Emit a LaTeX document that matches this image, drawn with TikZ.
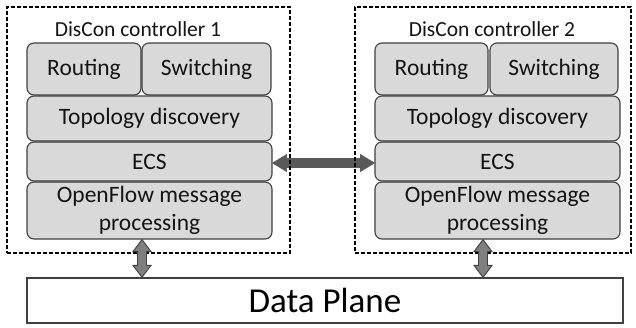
\documentclass[tikz,border=0pt]{standalone}
\usepackage{fontspec}
\setmainfont{Carlito}
\usetikzlibrary{calc}
\definecolor{boxfill}{HTML}{D9D9D9}
\definecolor{boxline}{HTML}{404040}
\definecolor{arrowfill}{HTML}{7F7F7F}
\definecolor{harrowfill}{HTML}{595959}
\definecolor{txt}{HTML}{141414}
\begin{document}
\begin{tikzpicture}[x=1pt,y=-1pt,
  layer/.style={draw=boxline, fill=boxfill, line width=1.1pt, rounded corners=7pt,
    inner sep=0pt, align=center, text=txt, font=\fontsize{23.5}{28}\selectfont},
  ctrl/.style={draw=black, line width=1.3pt, dash pattern=on 4pt off 2pt, inner sep=0pt},
  title/.style={text=txt, inner sep=0pt, font=\fontsize{21.5}{26}\selectfont},
  plane/.style={draw=boxline, line width=1.2pt, fill=white, inner sep=0pt, text=black,
    font=\fontsize{35}{40}\selectfont},
  vfat/.style={fill=arrowfill, draw=boxline, line width=0.9pt, line join=miter},
  hfat/.style={fill=harrowfill, draw=harrowfill, line width=0.6pt, line join=miter}]
\useasboundingbox (0,0) rectangle (636,327);
% controller 1 layers
\node[layer, minimum width=114pt, minimum height=52pt] (R1) at (84,69) {Routing};
\node[layer, minimum width=129pt, minimum height=52pt] (S1) at (206.5,69) {Switching};
\node[layer, minimum width=245pt, minimum height=45pt] (T1) at (149.5,118.5) {Topology discovery};
\node[layer, minimum width=245pt, minimum height=39pt] (E1) at (149.5,161.5) {ECS};
\node[layer, minimum width=245pt, minimum height=57pt] (O1) at (149.5,210.5) {OpenFlow message\\processing};
% controller 2 layers
\node[layer, minimum width=113pt, minimum height=52pt] (R2) at (431.5,69) {Routing};
\node[layer, minimum width=128pt, minimum height=52pt] (S2) at (554,69) {Switching};
\node[layer, minimum width=245pt, minimum height=45pt] (T2) at (497.5,118.5) {Topology discovery};
\node[layer, minimum width=245pt, minimum height=39pt] (E2) at (497.5,161.5) {ECS};
\node[layer, minimum width=245pt, minimum height=57pt] (O2) at (497.5,210.5) {OpenFlow message\\processing};
% data plane
\node[plane, minimum width=596pt, minimum height=45pt] (dp) at (325,300.5) {Data Plane};
% horizontal ECS arrow
\path[hfat] let \p1=($(E1.east)+(0,1.5)$), \p2=($(E2.west)+(0,1.5)$) in
  (\x1,\y1) -- (\x1+14pt,\y1+8.5pt) -- (\x1+14pt,\y1+4.5pt) -- (\x2-14pt,\y1+4.5pt)
  -- (\x2-14pt,\y1+8.5pt) -- (\x2,\y1) -- (\x2-14pt,\y1-8.5pt) -- (\x2-14pt,\y1-4.5pt)
  -- (\x1+14pt,\y1-4.5pt) -- (\x1+14pt,\y1-8.5pt) -- cycle;
% dashed controller frames
\node[ctrl, minimum width=283pt, minimum height=246pt] (D1) at (148.5,130) {};
\node[ctrl, minimum width=276pt, minimum height=246pt] (D2) at (493,130) {};
\node[title] (t1) at (138,29) {DisCon controller 1};
\node[title] (t2) at (492,29) {DisCon controller 2};
% vertical arrows
\path[vfat] let \p1=($(O1.south)+(-7.5,0)$), \p2=(dp.north) in
  (\x1,\y1) -- (\x1+9pt,\y1-12pt) -- (\x1+4.5pt,\y1-12pt) -- (\x1+4.5pt,\y2+12pt)
  -- (\x1+9pt,\y2+12pt) -- (\x1,\y2) -- (\x1-9pt,\y2+12pt) -- (\x1-4.5pt,\y2+12pt)
  -- (\x1-4.5pt,\y1-12pt) -- (\x1-9pt,\y1-12pt) -- cycle;
\path[vfat] let \p1=($(O2.south)+(-14.5,0)$), \p2=(dp.north) in
  (\x1,\y1) -- (\x1+9pt,\y1-12pt) -- (\x1+4.5pt,\y1-12pt) -- (\x1+4.5pt,\y2+12pt)
  -- (\x1+9pt,\y2+12pt) -- (\x1,\y2) -- (\x1-9pt,\y2+12pt) -- (\x1-4.5pt,\y2+12pt)
  -- (\x1-4.5pt,\y1-12pt) -- (\x1-9pt,\y1-12pt) -- cycle;
\end{tikzpicture}
\end{document}
